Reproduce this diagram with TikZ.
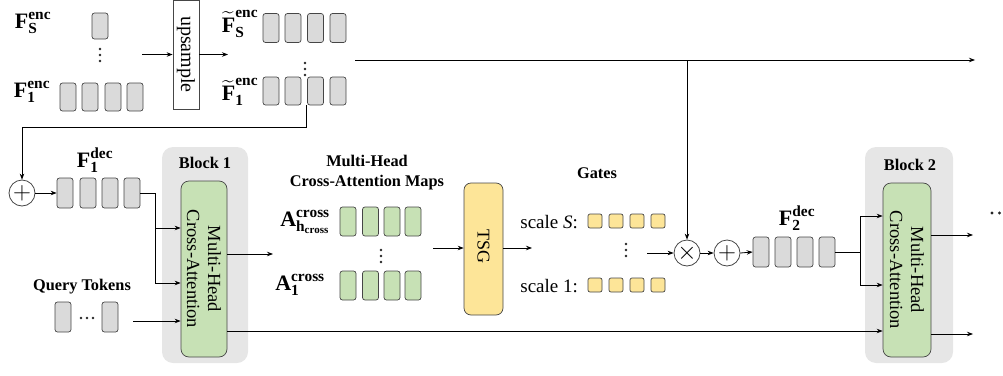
\documentclass[tikz,border=0pt]{standalone}
\usepackage{amsmath}
\usepackage{fontspec}
\setmainfont{Liberation Serif}
\usetikzlibrary{arrows.meta,calc}

\definecolor{cellgray}{RGB}{218,218,218}
\definecolor{edgegray}{RGB}{70,70,70}
\definecolor{attgreen}{RGB}{199,225,181}
\definecolor{gateyellow}{RGB}{253,229,152}
\definecolor{blockbg}{RGB}{230,230,230}

\newcommand\symfont{\fontsize{22}{26}\selectfont}
\newcommand\headfont{\fontsize{16.3}{20}\selectfont\bfseries}
\newcommand\bodyfont{\fontsize{18.5}{21}\selectfont}

\begin{document}
\begin{tikzpicture}[x=1pt,y=-1pt,
  line width=0.8pt,
  arr/.style={-{Stealth[length=6pt,width=4.5pt]}},
  cell/.style={draw=edgegray,line width=0.7pt,fill=cellgray,rounded corners=2.5pt,
    minimum width=16pt,minimum height=29pt,inner sep=0pt},
  gcell/.style={cell,fill=attgreen},
  ycell/.style={cell,fill=gateyellow,minimum width=14pt,minimum height=14pt,rounded corners=2pt},
  blk/.style={fill=blockbg,rounded corners=11pt,inner sep=0pt},
  mhca/.style={draw=edgegray,line width=0.7pt,fill=attgreen,rounded corners=8pt,inner sep=0pt},
  vtext/.style={rotate=-90,align=center,font=\bodyfont,inner sep=0pt},
  op/.style={circle,draw=edgegray,line width=0.8pt,fill=white,minimum size=26pt,inner sep=0pt,
    font=\fontsize{24}{26}\selectfont},
  head/.style={font=\headfont,inner sep=0pt},
  sym/.style={font=\symfont,inner sep=0pt},
  dot/.style={fill=black!85},
]
\useasboundingbox (0,0) rectangle (1003,375);

% vertical and horizontal ellipses drawn as three small dots
\newcommand\vdotsat[1]{\fill[dot] ($(#1)+(0,-6)$) circle (1.4pt) (#1) circle (1.4pt) ($(#1)+(0,6)$) circle (1.4pt);}
\newcommand\hdotsat[1]{\fill[dot] ($(#1)+(-6,0)$) circle (1.4pt) (#1) circle (1.4pt) ($(#1)+(6,0)$) circle (1.4pt);}

% ---------------- encoder features and upsampling ----------------
\node[sym] (lfs) at (33,23) {$\textbf{F}^{\textbf{enc}}_{\textbf{S}}$};
\node[sym] (lf1) at (32,92) {$\textbf{F}^{\textbf{enc}}_{\textbf{1}}$};
\node[cell,minimum height=26pt] (es1) at (100,26) {};
\coordinate (edots) at (100,55);
\vdotsat{edots}
\foreach \x [count=\i] in {68,90,113,135}
  \node[cell,minimum height=28pt] (e1\i) at (\x,97) {};

\node[draw=edgegray,line width=0.7pt,fill=white,minimum width=26pt,minimum height=109pt,inner sep=0pt] (up) at (186,54.5) {};
\node[vtext,font=\fontsize{20}{24}\selectfont] (uplbl) at (up.center) {upsample};
\coordinate (upin) at (142,54.5);
\coordinate (upout) at (228,54.5);
\draw[arr] (upin) -- (up.west);
\draw[arr] (up.east) -- (upout);

\node[sym] (ltS) at (240,24) {$\widetilde{\textbf{F}}^{\textbf{enc}}_{\textbf{S}}$};
\node[sym] (lt1) at (240,92) {$\widetilde{\textbf{F}}^{\textbf{enc}}_{\textbf{1}}$};
\foreach \x [count=\i] in {271,293,315.5,338} {
  \node[cell] (tS\i) at (\x,28) {};
  \node[cell,minimum height=28pt] (t1\i) at (\x,91) {};
}
\coordinate (tdots) at (305,69);
\vdotsat{tdots}

% skip connection to the first decoder stage
\coordinate (skipstart) at ([xshift=-0.5pt]t13.south west);
\node[op] (plus1) at (22,193) {$+$};
\draw[arr] (skipstart) -- ++(0,22) -| (plus1.north);

% long line carrying the encoder features to the later stages
\coordinate (encA) at (355,60);
\coordinate (encB) at (975,60);
\coordinate (encT) at (687,60);
\draw[arr] (encA) -- (encB);

% ---------------- Block 1 ----------------
\node[sym] (ld1) at (95,160) {$\textbf{F}^{\textbf{dec}}_{\textbf{1}}$};
\foreach \x [count=\i] in {65,88,110,132}
  \node[cell,minimum height=30pt] (d1\i) at (\x,193) {};
\draw[arr] (plus1.east) -- (d11.west);

\node[blk,minimum width=86pt,minimum height=216pt] (blk1) at (205,255) {};
\node[head] (blk1lbl) at (205,163) {Block 1};
\node[mhca,minimum width=46pt,minimum height=176pt] (mh1) at (204,269) {};
\node[vtext] (mh1lbl) at (mh1.center) {Multi-Head\\Cross-Attention};

\coordinate (j1a) at (155,228);
\coordinate (j1b) at (155,283);
\draw (d14.east) -| (j1b);
\draw[arr] (j1a) -- (j1a -| mh1.west);
\draw[arr] (j1b) -- (j1b -| mh1.west);

\node[head] (qlbl) at (82,287) {Query Tokens};
\node[cell,minimum height=30pt] (q1) at (63,317) {};
\node[cell,minimum height=30pt] (q2) at (110,317) {};
\coordinate (qdots) at (87,318);
\hdotsat{qdots}
\coordinate (qin) at (133,321);
\draw[arr] (qin) -- (qin -| mh1.west);

\coordinate (mh1out) at (273,254);
\draw[arr] (mh1out -| mh1.east) -- (mh1out);

% ---------------- cross-attention maps and TSG ----------------
\node[head,align=center] (mapslbl) at (367,173) {Multi-Head\\Cross-Attention Maps};
\node[sym] (lah) at (305,222) {$\textbf{A}^{\textbf{cross}}_{\textbf{h}_{\textbf{cross}}}$};
\node[sym] (la1) at (300,285) {$\textbf{A}^{\textbf{cross}}_{\textbf{1}}$};
\foreach \x [count=\i] in {348,370.5,392,413} {
  \node[gcell] (ah\i) at (\x,221.5) {};
  \node[gcell] (a1\i) at (\x,285.5) {};
}
\coordinate (adots) at (381,256);
\vdotsat{adots}

\node[mhca,fill=gateyellow,minimum width=39pt,minimum height=132pt,rounded corners=7pt] (tsg) at (483.5,249) {};
\node[vtext,font=\fontsize{18}{21}\selectfont] (tsglbl) at (483.5,246) {TSG};
\coordinate (tsgin) at (433,248);
\coordinate (tsgout) at (532,248);
\draw[arr] (tsgin) -- (tsgin -| tsg.west);
\draw[arr] (tsgout -| tsg.east) -- (tsgout);

% ---------------- gates ----------------
\node[head] (gateslbl) at (597,173) {Gates};
\node[anchor=west,inner sep=0pt,font=\fontsize{19}{22}\selectfont] (sSlbl) at (520,222) {scale \textit{S}:};
\node[anchor=west,inner sep=0pt,font=\fontsize{19}{22}\selectfont] (s1lbl) at (520,286) {scale 1:};
\foreach \x [count=\i] in {595,616,637,658} {
  \node[ycell] (gS\i) at (\x,221) {};
  \node[ycell] (g1\i) at (\x,285) {};
}
\coordinate (gdots) at (626,250);
\vdotsat{gdots}

\node[op] (times) at (687,253) {$\times$};
\node[op] (plus2) at (727,253) {$+$};
\coordinate (gin) at (647,253);
\draw[arr] (gin) -- (times.west);
\draw[arr] (encT) -- (times.north);
\draw[arr] (times.east) -- (plus2.west);

% ---------------- Block 2 ----------------
\node[sym] (ld2) at (797,218) {$\textbf{F}^{\textbf{dec}}_{\textbf{2}}$};
\foreach \x [count=\i] in {761,783,805,827}
  \node[cell,minimum height=30pt] (d2\i) at (\x,252) {};
\draw[arr] (plus2.east) -- (d21.west);

\node[blk,minimum width=88pt,minimum height=216pt] (blk2) at (909,255) {};
\node[head] (blk2lbl) at (910,165) {Block 2};
\node[mhca,minimum width=48pt,minimum height=174pt] (mh2) at (907,270) {};
\node[vtext] (mh2lbl) at (mh2.center) {Multi-Head\\Cross-Attention};

\coordinate (j2a) at (860,216);
\coordinate (j2b) at (860,285);
\draw (d24.east) -| (j2a);
\draw (d24.east) -| (j2b);
\draw[arr] (j2a) -- (j2a -| mh2.west);
\draw[arr] (j2b) -- (j2b -| mh2.west);

% query path from Block 1 to Block 2
\coordinate (qpath) at (0,331);
\draw[arr] (qpath -| mh1.east) -- (qpath -| mh2.west);

\coordinate (o2a) at (973,235);
\coordinate (o2b) at (973,334);
\draw[arr] (o2a -| mh2.east) -- (o2a);
\draw[arr] (o2b -| mh2.east) -- (o2b);

\fill[dot] (992,213) circle (1.6pt) (999.5,213) circle (1.6pt);
\end{tikzpicture}
\end{document}
